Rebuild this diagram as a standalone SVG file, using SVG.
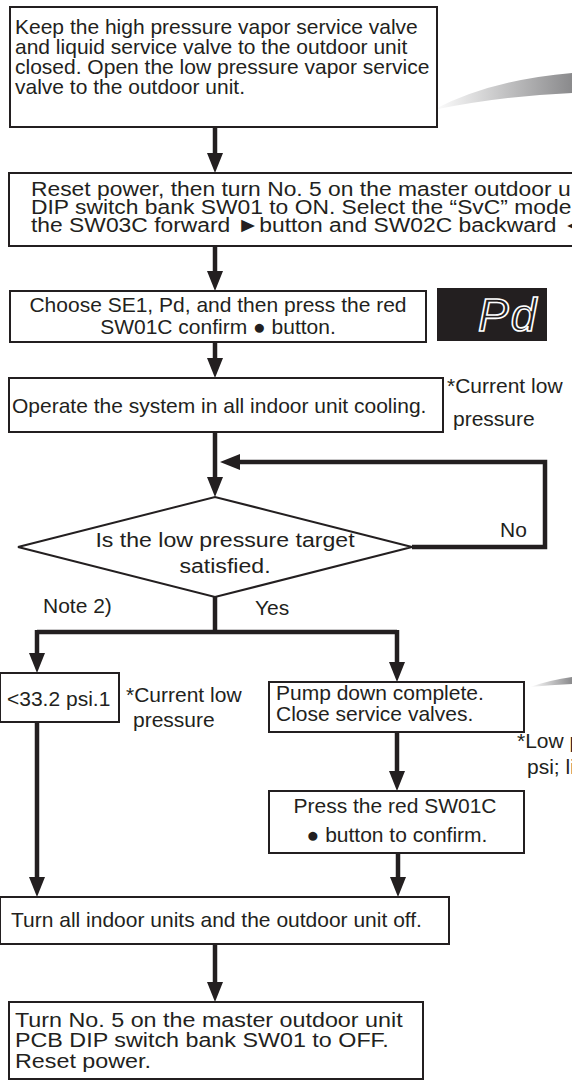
<svg xmlns="http://www.w3.org/2000/svg" width="572" height="1082" viewBox="0 0 572 1082">
<defs>
<style>
.box{fill:#fff;stroke:#231f20;stroke-width:2}
.t{font-family:"Liberation Sans",Arial,sans-serif;font-size:21px;fill:#231f20}
.c{text-anchor:middle}
.ln{fill:none;stroke:#231f20;stroke-width:4.5}
.ar{marker-end:url(#ah)}
</style>
<marker id="ah" viewBox="0 0 20 16" refX="2" refY="8" markerWidth="20" markerHeight="16" orient="auto" markerUnits="userSpaceOnUse">
<path d="M0,0 L20,8 L0,16 Z" fill="#231f20"/>
</marker>
<linearGradient id="sw" x1="0" y1="0" x2="1" y2="0">
<stop offset="0" stop-color="#ffffff"/>
<stop offset="1" stop-color="#8a8a8c"/>
</linearGradient>
</defs>
<rect width="572" height="1082" fill="#fff"/>
<g id="swooshes">
<path d="M433,110 Q490,80 572,73 L572,93 Q500,96 433,110 Z" fill="url(#sw)"/>
<path d="M530,687 Q550,680 572,677 L572,684 Q550,685 530,687 Z" fill="url(#sw)"/>
</g>
<g id="connectors">
<path class="ln ar" d="M215,127 V155"/>
<path class="ln ar" d="M215,246 V273"/>
<path class="ln ar" d="M215,342 V360"/>
<path class="ln ar" d="M215,432 V479"/>
<path class="ln ar" d="M412,547 H545 V462 H238"/>
<path class="ln" d="M215,597 V632"/>
<path class="ln" d="M37,632 H397"/>
<path class="ln ar" d="M37,630 V655"/>
<path class="ln ar" d="M397,630 V664"/>
<path class="ln ar" d="M397,732 V773"/>
<path class="ln ar" d="M37,722 V879"/>
<path class="ln ar" d="M398,853 V879"/>
<path class="ln ar" d="M215,944 V984"/>
</g>
<g id="n1">
<rect class="box" x="10" y="7" width="427" height="120"/>
<text class="t" x="15" y="34">Keep the high pressure vapor service valve</text>
<text class="t" x="15" y="54">and liquid service valve to the outdoor unit</text>
<text class="t" x="15" y="74">closed. Open the low pressure vapor service</text>
<text class="t" x="15" y="94">valve to the outdoor unit.</text>
</g>
<g id="n2">
<rect class="box" x="9" y="173" width="600" height="73"/>
<g transform="translate(31,0) scale(1.088,1)">
<text class="t" x="0" y="196">Reset power, then turn No. 5 on the master outdoor u</text>
<text class="t" x="0" y="214">DIP switch bank SW01 to ON. Select the “SvC” mode</text>
<text class="t" x="0" y="232">the SW03C forward ►button and SW02C backward ◄</text>
</g>
</g>
<g id="n3">
<rect class="box" x="10" y="291" width="416" height="51"/>
<text class="t c" x="218" y="312">Choose SE1, Pd, and then press the red</text>
<text class="t c" x="218" y="334">SW01C confirm ● button.</text>
</g>
<g id="display">
<rect x="437" y="288" width="110" height="53" fill="#231f20"/>
<text x="478" y="331" font-family="Liberation Sans,Arial,sans-serif" font-size="46" font-style="italic" fill="none" stroke="#fff" stroke-width="1.6" letter-spacing="2">Pd</text>
</g>
<g id="n4">
<rect class="box" x="9" y="378" width="434" height="54"/>
<text class="t" x="12" y="413">Operate the system in all indoor unit cooling.</text>
</g>
<g id="note1">
<text class="t" x="447" y="393">*Current low</text>
<text class="t" x="453" y="426">pressure</text>
</g>
<g id="decision">
<polygon class="box" points="18,547 215,497 412,547 215,597"/>
<g transform="translate(225,0) scale(1.1,1)">
<text class="t c" x="0" y="547">Is the low pressure target</text>
<text class="t c" x="0" y="573">satisfied.</text>
</g>
</g>
<g id="labels">
<text class="t" x="500" y="537">No</text>
<text class="t" x="43" y="613">Note 2)</text>
<text class="t" x="255" y="615">Yes</text>
</g>
<g id="n5">
<rect class="box" x="0" y="673" width="119" height="49"/>
<text class="t" x="7" y="706">&lt;33.2 psi.1</text>
</g>
<g id="note2">
<text class="t" x="126" y="702">*Current low</text>
<text class="t" x="133" y="727">pressure</text>
</g>
<g id="n6">
<rect class="box" x="269" y="682" width="255" height="50"/>
<text class="t" x="276" y="700">Pump down complete.</text>
<text class="t" x="276" y="721">Close service valves.</text>
</g>
<g id="note3">
<text class="t" x="517" y="748">*Low p</text>
<text class="t" x="527" y="774">psi; li</text>
</g>
<g id="n7">
<rect class="box" x="269" y="791" width="255" height="62"/>
<text class="t c" x="395" y="813">Press the red SW01C</text>
<text class="t c" x="397" y="842">● button to confirm.</text>
</g>
<g id="n8">
<rect class="box" x="0" y="897" width="449" height="47"/>
<text class="t" x="11" y="927">Turn all indoor units and the outdoor unit off.</text>
</g>
<g id="n9">
<rect class="box" x="9" y="1002" width="414" height="77"/>
<g transform="translate(15,0) scale(1.11,1)">
<text class="t" x="0" y="1027">Turn No. 5 on the master outdoor unit</text>
<text class="t" x="0" y="1047">PCB DIP switch bank SW01 to OFF.</text>
<text class="t" x="0" y="1068">Reset power.</text>
</g>
</g>
</svg>
